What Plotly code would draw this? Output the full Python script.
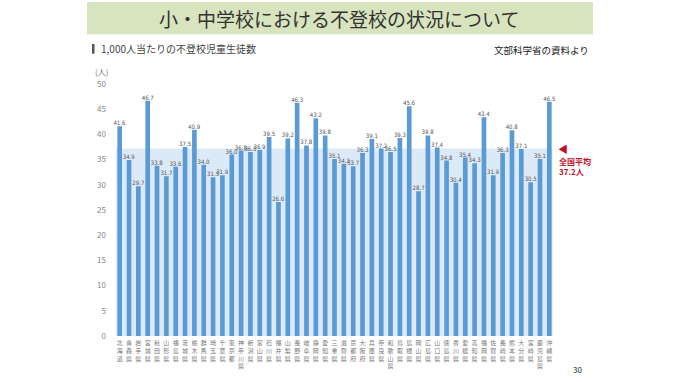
import plotly.graph_objects as go

prefectures = ["北海道","青森県","岩手県","宮城県","秋田県","山形県","福島県","茨城県","栃木県","群馬県",
               "埼玉県","千葉県","東京都","神奈川県","新潟県","富山県","石川県","福井県","山梨県","長野県",
               "岐阜県","静岡県","愛知県","三重県","滋賀県","京都府","大阪府","兵庫県","奈良県","和歌山県",
               "鳥取県","島根県","岡山県","広島県","山口県","徳島県","香川県","愛媛県","高知県","福岡県",
               "佐賀県","長崎県","熊本県","大分県","宮崎県","鹿児島県","沖縄県"]
values = [41.6,34.9,29.7,46.7,33.8,31.7,33.6,37.5,40.9,34.0,
          31.5,31.9,36.0,36.8,36.5,36.9,39.5,26.6,39.2,46.3,
          37.8,43.2,39.8,35.1,34.2,33.7,36.3,39.1,37.2,36.5,
          39.3,45.6,28.7,39.8,37.4,34.8,30.4,35.4,34.3,43.4,
          31.9,36.3,40.8,37.1,30.5,35.1,46.5]
national_avg = 37.2
y_ticks = [0,5,10,15,20,25,30,35,40,45,50]

x_idx = list(range(len(prefectures)))
tick_text = ["<br>".join(list(p)) for p in prefectures]

L, T, W, H = 115, 84, 439, 258  # plot area in page pixels


def px(x):
    return (x - L) / W


def py(y):
    return (T + H - y) / H


fig = go.Figure()
fig.add_trace(go.Bar(
    x=x_idx, y=values,
    marker=dict(color="#5b9bd5", line=dict(width=0)),
    text=[f"{v:.1f}" for v in values],
    textposition="outside",
    constraintext="none",
    textfont=dict(size=6, color="#555555",
                  family="Liberation Sans Narrow, DejaVu Sans Condensed, Liberation Sans, Arial"),
    cliponaxis=False,
    width=0.5,
))

fig.update_layout(
    width=680, height=382,
    margin=dict(l=L, r=680 - L - W, t=T, b=382 - T - H),
    paper_bgcolor="white", plot_bgcolor="white",
    showlegend=False,
    font=dict(family="Noto Sans CJK JP, Noto Sans", color="#666666"),
    xaxis=dict(tickmode="array", tickvals=x_idx, ticktext=tick_text, range=[-0.5, len(values) - 0.5],
               showgrid=False, zeroline=False, showline=False, ticks="",
               tickfont=dict(size=6, color="#777777"), tickangle=0, ticklabelstandoff=2),
    yaxis=dict(range=[0, 50], tickvals=y_ticks, showgrid=False, zeroline=False, showline=False,
               tickfont=dict(size=8, color="#888888"), ticklabelstandoff=8),
    shapes=[
        dict(type="rect", xref="x", yref="y", x0=-0.4, x1=len(values) - 0.65, y0=0, y1=national_avg,
             fillcolor="#dce9f6", line=dict(width=0), layer="below"),
        dict(type="rect", xref="paper", yref="paper", x0=px(87), x1=px(593),
             y0=py(33), y1=py(0), fillcolor="#d7e4bd", line=dict(width=0), layer="below"),
        dict(type="rect", xref="paper", yref="paper", x0=px(92), x1=px(94.5),
             y0=py(53), y1=py(43), fillcolor="#555555", line=dict(width=0)),
    ],
)

fig.add_annotation(xref="paper", yref="paper", x=px(339), y=py(17), text="小・中学校における不登校の状況について",
                   showarrow=False, font=dict(size=19, color="#333333", family="Noto Sans CJK JP"),
                   xanchor="center", yanchor="middle")
fig.add_annotation(xref="paper", yref="paper", x=px(99), y=py(48), text="1,000人当たりの不登校児童生徒数",
                   showarrow=False, font=dict(size=10, color="#444444", family="Noto Sans CJK JP"),
                   xanchor="left", yanchor="middle")
fig.add_annotation(xref="paper", yref="paper", x=px(591), y=py(49), text="文部科学省の資料より",
                   showarrow=False, font=dict(size=9.5, color="#222222", family="Noto Sans CJK JP"),
                   xanchor="right", yanchor="middle")
fig.add_annotation(xref="paper", yref="paper", x=px(101), y=py(71), text="(人)",
                   showarrow=False, font=dict(size=8, color="#777777"), xanchor="center", yanchor="middle")
fig.add_annotation(xref="x", yref="y", x=len(values) - 0.5, y=national_avg, xshift=9, text="◀",
                   showarrow=False, font=dict(size=10, color="#c0102a"), xanchor="center", yanchor="middle")
fig.add_annotation(xref="x", yref="y", x=len(values) - 0.5, y=national_avg, xshift=3, yshift=-18,
                   text="<b>全国平均</b><br><b>37.2人</b>", align="left",
                   showarrow=False, font=dict(size=8, color="#c0102a", family="Noto Sans CJK JP"),
                   xanchor="left", yanchor="middle")
fig.add_annotation(xref="paper", yref="paper", x=px(577), y=py(376), text="30",
                   showarrow=False, font=dict(size=8, color="#222222"), xanchor="center", yanchor="middle")

fig.write_html("out.html", config={"displayModeBar": False},
               post_script="document.body.style.margin='0px';")
